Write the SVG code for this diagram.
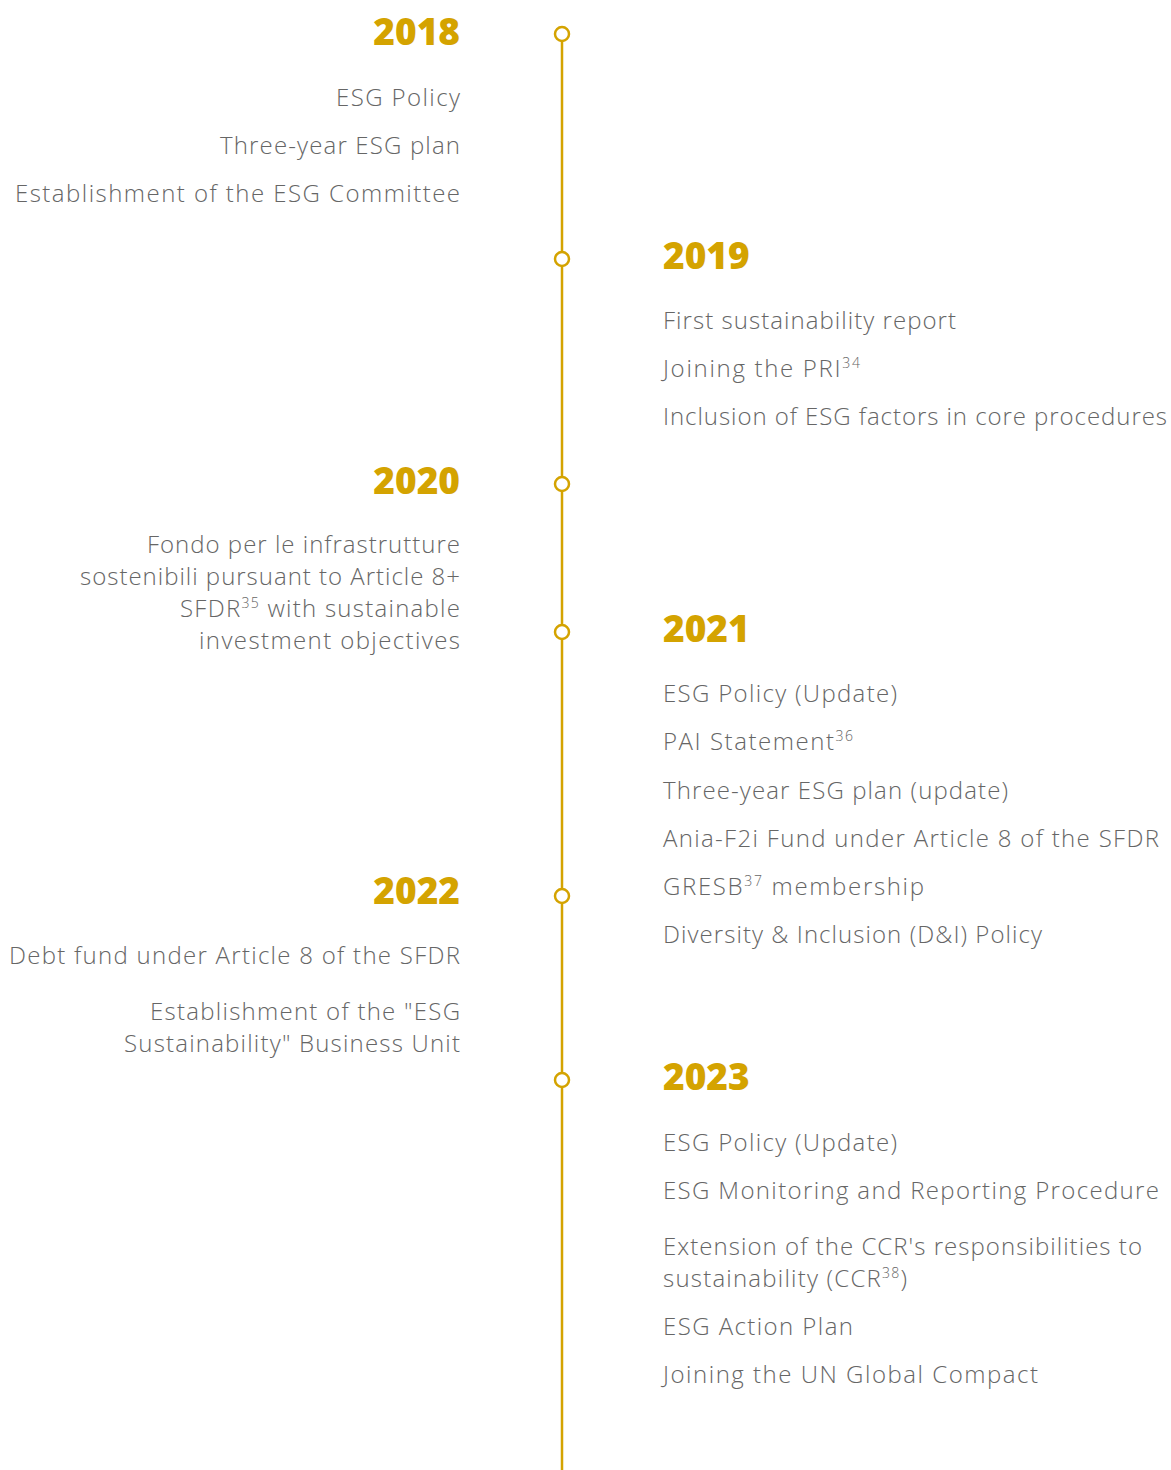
<svg xmlns="http://www.w3.org/2000/svg" width="1171" height="1470" viewBox="0 0 1171 1470">
  <style>
    .yr { font-family: "Open Sans", "Liberation Sans", sans-serif; font-weight: 800; font-size: 37px; fill: #D4A300; }
    .tx { font-family: "Open Sans", "Liberation Sans", sans-serif; font-weight: 300; font-size: 24px; fill: #666666; }
    .l { text-anchor: end; }
    .r { text-anchor: start; }
    .sup { font-size: 14px; }
    .axis { stroke: #D4A300; stroke-width: 2.5; fill: none; }
    .dot { stroke: #D4A300; stroke-width: 2.5; fill: #ffffff; }
  </style>
  <rect width="1171" height="1470" fill="#ffffff"/>

  <!-- timeline axis -->
  <g id="connectors">
    <line class="axis" x1="562" y1="41" x2="562" y2="1470"/>
  </g>

  <g id="y2018">
    <circle class="dot" cx="562" cy="34" r="7"/>
    <text class="yr l" x="460" y="45">2018</text>
    <text class="tx l" x="460" y="106" textLength="124">ESG Policy</text>
    <text class="tx l" x="460" y="154" textLength="240">Three-year ESG plan</text>
    <text class="tx l" x="460" y="202" textLength="445">Establishment of the ESG Committee</text>
  </g>

  <g id="y2019">
    <circle class="dot" cx="562" cy="259" r="7"/>
    <text class="yr r" x="663" y="269">2019</text>
    <text class="tx r" x="663" y="329" textLength="293">First sustainability report</text>
    <text class="tx r" x="663" y="377" textLength="197">Joining the PRI<tspan class="sup" dy="-9">34</tspan></text>
    <text class="tx r" x="663" y="425" textLength="504">Inclusion of ESG factors in core procedures</text>
  </g>

  <g id="y2020">
    <circle class="dot" cx="562" cy="484" r="7"/>
    <text class="yr l" x="460" y="494">2020</text>
    <text class="tx l" x="460" y="553" textLength="313">Fondo per le infrastrutture</text>
    <text class="tx l" x="460" y="585" textLength="380">sostenibili pursuant to Article 8+</text>
    <text class="tx l" x="460" y="617" textLength="280">SFDR<tspan class="sup" dy="-9">35</tspan><tspan dy="9"> with sustainable</tspan></text>
    <text class="tx l" x="460" y="649" textLength="261">investment objectives</text>
  </g>

  <g id="y2021">
    <circle class="dot" cx="562" cy="632" r="7"/>
    <text class="yr r" x="663" y="642">2021</text>
    <text class="tx r" x="663" y="702" textLength="234">ESG Policy (Update)</text>
    <text class="tx r" x="663" y="750" textLength="190">PAI Statement<tspan class="sup" dy="-9">36</tspan></text>
    <text class="tx r" x="663" y="799" textLength="345">Three-year ESG plan (update)</text>
    <text class="tx r" x="663" y="847" textLength="496">Ania-F2i Fund under Article 8 of the SFDR</text>
    <text class="tx r" x="663" y="895" textLength="261">GRESB<tspan class="sup" dy="-9">37</tspan><tspan dy="9"> membership</tspan></text>
    <text class="tx r" x="663" y="943" textLength="379">Diversity &amp; Inclusion (D&amp;I) Policy</text>
  </g>

  <g id="y2022">
    <circle class="dot" cx="562" cy="896" r="7"/>
    <text class="yr l" x="460" y="904">2022</text>
    <text class="tx l" x="460" y="964" textLength="451">Debt fund under Article 8 of the SFDR</text>
    <text class="tx l" x="460" y="1020" textLength="310">Establishment of the "ESG</text>
    <text class="tx l" x="460" y="1052" textLength="336">Sustainability" Business Unit</text>
  </g>

  <g id="y2023">
    <circle class="dot" cx="562" cy="1080" r="7"/>
    <text class="yr r" x="663" y="1090">2023</text>
    <text class="tx r" x="663" y="1151" textLength="234">ESG Policy (Update)</text>
    <text class="tx r" x="663" y="1199" textLength="496">ESG Monitoring and Reporting Procedure</text>
    <text class="tx r" x="663" y="1255" textLength="479">Extension of the CCR's responsibilities to</text>
    <text class="tx r" x="663" y="1287" textLength="244">sustainability (CCR<tspan class="sup" dy="-9">38</tspan><tspan dy="9">)</tspan></text>
    <text class="tx r" x="663" y="1335" textLength="190">ESG Action Plan</text>
    <text class="tx r" x="663" y="1383" textLength="375">Joining the UN Global Compact</text>
  </g>
</svg>
